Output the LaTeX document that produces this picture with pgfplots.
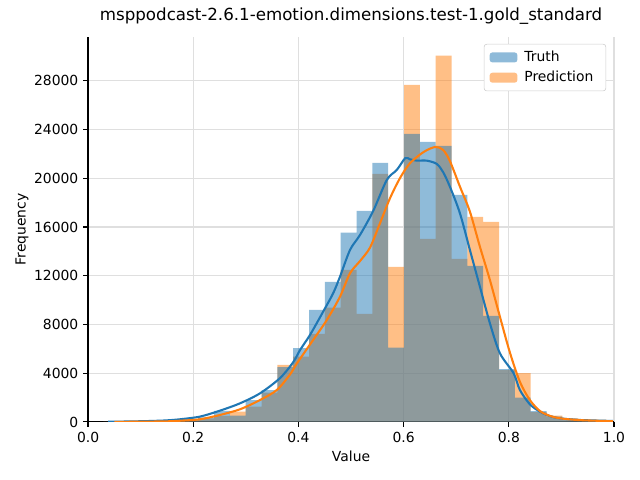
\documentclass[border=0pt]{standalone}
\usepackage{fontspec}
\setmainfont{DejaVu Sans}
\usepackage{pgfplots}
\pgfplotsset{compat=1.18}
\definecolor{tabblue}{HTML}{1F77B4}
\definecolor{taborange}{HTML}{FF7F0E}

\begin{document}
\begin{tikzpicture}
% page = 640x480 px at 100 dpi, axis box placed at the origin
\useasboundingbox (-63.4pt,-41.8pt) rectangle (397.4pt,303.8pt);
\begin{axis}[
    at={(0,0)}, anchor=south west,
    scale only axis,
    width=378.7pt, height=277.2pt,
    xmin=0, xmax=1, ymin=0, ymax=31590,
    axis lines*=left,
    axis line style={line width=0.8pt},
    tick align=outside,
    major tick length=3.5pt,
    tick style={line width=0.8pt, black},
    xtick={0,0.2,0.4,0.6,0.8,1.0},
    ytick={0,4000,8000,12000,16000,20000,24000,28000},
    scaled y ticks=false,
    xticklabel style={/pgf/number format/.cd, fixed, fixed zerofill, precision=1},
    yticklabel style={/pgf/number format/.cd, fixed, 1000 sep={}},
    every tick label/.append style={font=\fontsize{10}{12}\selectfont},
    /pgf/number format/assume math mode=true,
    grid=major,
    major grid style={line width=0.8pt, gray!25},
    title={msppodcast-2.6.1-emotion.dimensions.test-1.gold\_standard},
    title style={at={(0.5,1)}, anchor=base, yshift=5.8pt, font=\fontsize{12}{14}\selectfont},
    xlabel={Value},
    xlabel style={at={(0.5,0)}, anchor=base, yshift=-28.8pt, font=\fontsize{10}{12}\selectfont},
    ylabel={Frequency},
    ylabel style={at={(-0.1188,0.5)}, anchor=base, font=\fontsize{10}{12}\selectfont},
    legend style={at={(0.985,0.982)}, anchor=north east, draw=gray!40,
        rounded corners=2pt, font=\fontsize{10}{12}\selectfont,
        inner xsep=4pt, inner ysep=3pt, row sep=1.5pt,
        nodes={inner xsep=5pt}},
    legend cell align=left,
    legend image code/.code={\fill[#1] (0pt,-3.6pt) rectangle (20pt,3.6pt);},
]
\addlegendimage{fill=tabblue, fill opacity=0.5, draw=none}
\addlegendentry{Truth}
\addlegendimage{fill=taborange, fill opacity=0.5, draw=none}
\addlegendentry{Prediction}

% Prediction histogram
\addplot[ybar interval, fill=taborange, fill opacity=0.5, draw=none, forget plot] coordinates {
(0.0289,5) (0.0590,8) (0.0891,15) (0.1192,30) (0.1493,60) (0.1794,130)
(0.2095,300) (0.2396,490) (0.2697,850) (0.2998,1255) (0.3299,2400) (0.3600,4680)
(0.3901,5360) (0.4202,7220) (0.4503,9380) (0.4804,12470) (0.5105,8860) (0.5406,20350)
(0.5707,12720) (0.6008,27650) (0.6309,15015) (0.6610,30050) (0.6911,13375) (0.7212,16820)
(0.7513,16410) (0.7814,4250) (0.8115,4000) (0.8416,800) (0.8717,520) (0.9018,300)
(0.9319,140) (0.9620,50) (0.9921,0)
};
% Truth histogram
\addplot[ybar interval, fill=tabblue, fill opacity=0.5, draw=none, forget plot] coordinates {
(0.0289,15) (0.0590,20) (0.0891,35) (0.1192,60) (0.1493,120) (0.1794,230)
(0.2095,380) (0.2396,900) (0.2697,520) (0.2998,1800) (0.3299,2620) (0.3600,4490)
(0.3901,6050) (0.4202,9190) (0.4503,11490) (0.4804,15540) (0.5105,17310) (0.5406,21250)
(0.5707,6100) (0.6008,23630) (0.6309,22970) (0.6610,22650) (0.6911,18625) (0.7212,12800)
(0.7513,8700) (0.7814,4330) (0.8115,2000) (0.8416,880) (0.8717,430) (0.9018,250)
(0.9319,120) (0.9620,50) (0.9921,0)
};
% Truth density
\addplot[tabblue, line width=1.5pt, smooth, forget plot] coordinates {
(0.038,20) (0.08,40) (0.12,80) (0.15,130) (0.175,220) (0.213,440) (0.251,930)
(0.289,1530) (0.327,2350) (0.365,3600) (0.390,4900) (0.403,5900) (0.422,7140)
(0.447,9050) (0.466,10560) (0.479,11920) (0.498,14110) (0.517,15340) (0.542,17300)
(0.568,19855) (0.587,20680) (0.603,21640) (0.612,21550) (0.625,21440) (0.644,21440)
(0.663,21170) (0.675,20500) (0.688,19300) (0.707,17125) (0.726,14110) (0.745,11100)
(0.764,8100) (0.783,5640) (0.809,4000) (0.821,2625) (0.840,1450) (0.859,850)
(0.878,480) (0.897,300) (0.935,160) (0.998,80)
};
% Prediction density
\addplot[taborange, line width=1.5pt, smooth, forget plot] coordinates {
(0.05,5) (0.10,20) (0.15,50) (0.175,100) (0.213,220) (0.251,575) (0.289,1040)
(0.327,1800) (0.359,2625) (0.384,3900) (0.397,4800) (0.428,6730) (0.454,8370)
(0.479,10280) (0.498,12200) (0.517,13200) (0.536,14300) (0.555,16300) (0.574,18350)
(0.593,20000) (0.612,21225) (0.638,22150) (0.660,22560) (0.675,22320) (0.688,21400)
(0.707,19310) (0.726,17255) (0.745,14380) (0.764,11650) (0.783,8640) (0.802,5700)
(0.821,3300) (0.840,1800) (0.859,900) (0.878,500) (0.897,300) (0.935,150) (0.998,60)
};
\end{axis}
\end{tikzpicture}
\end{document}
